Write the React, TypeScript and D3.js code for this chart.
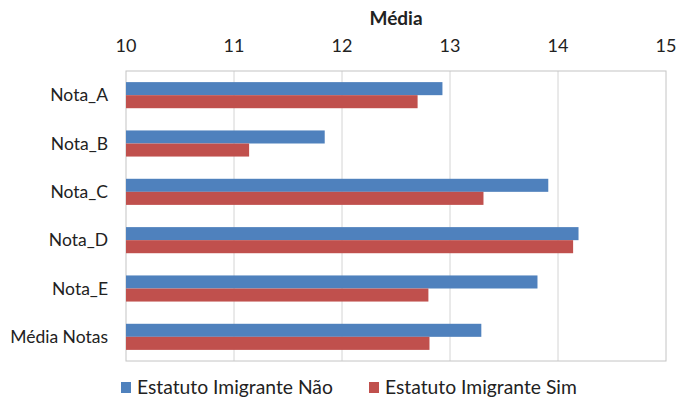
import * as d3 from "d3"
import { useEffect, useRef } from "react"

const categories = ["Nota_A", "Nota_B", "Nota_C", "Nota_D", "Nota_E", "Média Notas"]
const seriesNames = ["Estatuto Imigrante Não", "Estatuto Imigrante Sim"]
const valuesNao = [12.93, 11.84, 13.91, 14.19, 13.81, 13.29]
const valuesSim = [12.70, 11.14, 13.31, 14.14, 12.80, 12.81]
const xTicks = [10, 11, 12, 13, 14, 15]
const colors = ["#4F81BD", "#C0504D"]

export default function App() {
    const svgRef = useRef<SVGSVGElement>(null)

    useEffect(() => {
        const width = 680
        const height = 405
        const left = 126
        const right = 666
        const top = 71
        const bottom = 361
        const font = "Lato, 'Open Sans', sans-serif"

        if (svgRef.current !== null) {
            svgRef.current.innerHTML = ""
        }

        const svg = d3.select(svgRef.current)
            .attr("width", width)
            .attr("height", height)
            .attr("viewBox", [0, 0, width, height])
            .style("font-family", font)

        svg.append("rect").attr("width", width).attr("height", height).attr("fill", "white")

        const x = d3.scaleLinear([10, 15], [left, right])
        const y = d3.scaleBand(categories, [top, bottom]).paddingInner(0.46).paddingOuter(0.23)
        const ySub = d3.scaleBand([0, 1], [0, y.bandwidth()])

        // grid lines
        svg.append("g")
            .selectAll("line")
            .data(xTicks.slice(1, -1))
            .join("line")
                .attr("x1", d => x(d))
                .attr("x2", d => x(d))
                .attr("y1", top)
                .attr("y2", bottom)
                .attr("stroke", "#d4d4d4")
                .attr("stroke-width", 1)

        // plot border
        svg.append("rect")
            .attr("x", left)
            .attr("y", top)
            .attr("width", right - left)
            .attr("height", bottom - top)
            .attr("fill", "none")
            .attr("stroke", "#c4c4c4")

        const series = [valuesNao, valuesSim]
        series.forEach((vals, si) => {
            svg.append("g")
                .attr("fill", colors[si])
                .selectAll("rect")
                .data(vals)
                .join("rect")
                    .attr("x", x(10))
                    .attr("y", (_, i) => (y(categories[i]) ?? 0) + (ySub(si) ?? 0))
                    .attr("width", d => x(d) - x(10))
                    .attr("height", ySub.bandwidth())
        })

        // top axis labels
        svg.append("g")
            .selectAll("text")
            .data(xTicks)
            .join("text")
                .attr("x", d => x(d))
                .attr("y", 52)
                .attr("text-anchor", "middle")
                .attr("font-size", 18)
                .attr("fill", "#222")
                .text(d => d)

        svg.append("text")
            .attr("x", (left + right) / 2)
            .attr("y", 25)
            .attr("text-anchor", "middle")
            .attr("font-size", 19)
            .attr("font-weight", "bold")
            .attr("fill", "#222")
            .text("Média")

        // category labels
        svg.append("g")
            .selectAll("text")
            .data(categories)
            .join("text")
                .attr("x", left - 18)
                .attr("y", d => (y(d) ?? 0) + y.bandwidth() / 2)
                .attr("dy", "0.35em")
                .attr("text-anchor", "end")
                .attr("font-size", 17.5)
                .attr("fill", "#222")
                .text(d => d)

        // legend
        const legendX = [121, 369]
        const legend = svg.append("g")
            .selectAll("g")
            .data(seriesNames)
            .join("g")
                .attr("transform", (_, i) => `translate(${legendX[i]}, 382)`)
        legend.append("rect")
            .attr("width", 10)
            .attr("height", 11)
            .attr("fill", (_, i) => colors[i])
        legend.append("text")
            .attr("x", 16)
            .attr("y", 11.5)
            .attr("font-size", 19.3)
            .attr("fill", "#222")
            .text(d => d)
    }, [])

    return <svg ref={svgRef} style={{ position: "absolute", left: 0, top: 0 }}></svg>
}
